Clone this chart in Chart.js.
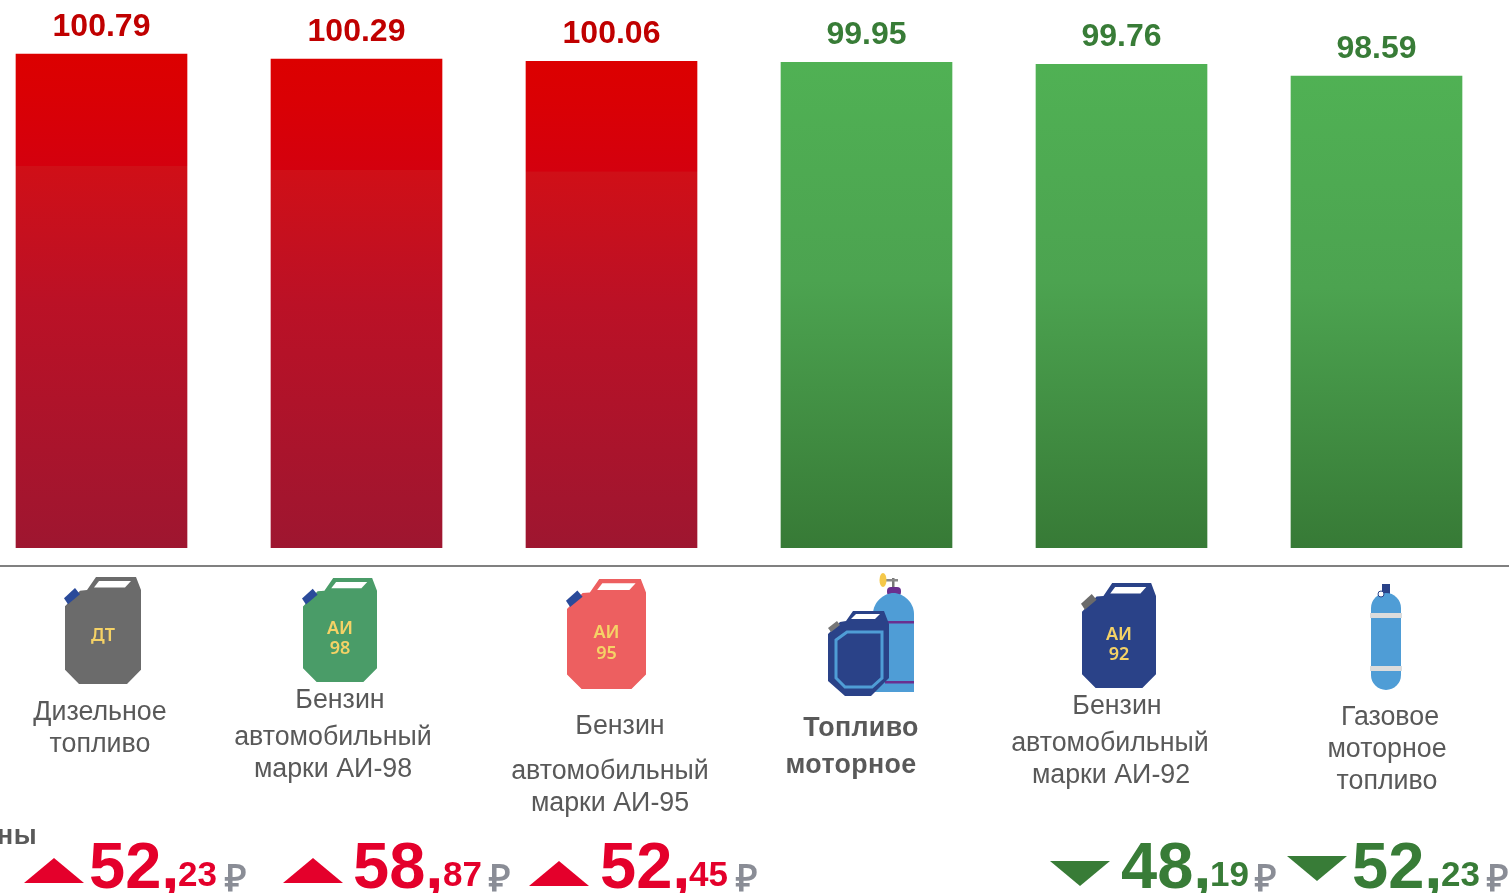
<!DOCTYPE html>
<html lang="ru">
<head>
<meta charset="utf-8">
<title>Индекс цен на топливо</title>
<script src="https://cdn.jsdelivr.net/npm/chart.js@4"></script>
<style>
html,body{margin:0;padding:0;width:1509px;height:893px;overflow:hidden;background:#fff;font-family:"Liberation Sans",Arial,sans-serif}
#wrap{position:absolute;left:-26px;top:0}
#rule{position:absolute;left:0;top:565px;width:1509px;height:2px;background:#808080}
.t{position:absolute;white-space:nowrap;line-height:1}
.cat{font-size:26.8px;color:#595959;transform:translate(-50%,-50%)}
.cat.b{font-weight:bold;letter-spacing:.35px}
.big{font-size:65px;font-weight:bold}
.kop{font-size:35px;font-weight:bold}
.rub{font-size:37px;font-weight:bold;color:#8a8d96}
svg{position:absolute;left:0;top:0}
</style>
</head>
<body>
<div id="wrap"><canvas id="c" width="1535" height="893"></canvas></div>
<div id="rule"></div>
<svg id="icons" width="1509" height="893"></svg>
<div id="texts"></div>
<script>
/* ===== datos ===== */
const categories=['Дизельное топливо','Бензин автомобильный марки АИ-98','Бензин автомобильный марки АИ-95','Топливо моторное','Бензин автомобильный марки АИ-92','Газовое моторное топливо'];
const values=[100.79,100.29,100.06,99.95,99.76,98.59];
const rising=[true,true,true,false,false,false];
const priceRub=['52','58','52',null,'48','52'];
const priceKop=['23','87','45',null,'19','23'];
const catLines=[['Дизельное','топливо'],['Бензин','автомобильный','марки АИ-98'],['Бензин','автомобильный','марки АИ-95'],['Топливо','моторное'],['Бензин','автомобильный','марки АИ-92'],['Газовое','моторное','топливо']];

/* ===== colocacion (no son datos) ===== */
const catX=[[100,100],[340,333,333],[620,610,610],[861,851],[1117,1110,1111],[1390,1387,1387]];
const catY=[[711,743],[699,736,768],[725,770,802],[727,764],[705,742,774],[716,748,780]];
const rubX=[89,353,600,null,1121,1352];
const kopX=[178,443,689,null,1210,1441];
const signX=[225,489,736,null,1255,1487];
const arrowX=[24,283,529,null,1050,1287];
const arrowY=[858,858,861,null,861,856];
const RED='#e4002b',GREEN='#387c37';

function fillGrad(c,stops){
  const chart=c.chart,a=chart.chartArea;
  if(!a) return stops[0][1];
  const g=chart.ctx.createLinearGradient(0,chart.scales.y.getPixelForValue(values[c.dataIndex]),0,a.bottom);
  stops.forEach(s=>g.addColorStop(s[0],s[1]));
  return g;
}
const redStops=[[0,'#dc0000'],[.08,'#da0004'],[.226,'#d4000e'],[.227,'#d00f17'],[.5,'#bb1126'],[1,'#9e1630']];
const greenStops=[[0,'#50b154'],[.45,'#4ca350'],[1,'#377a36']];

const valueLabels={id:'valueLabels',afterDatasetsDraw(chart){
  const ctx=chart.ctx;
  ctx.save();
  ctx.font='bold 32px "Liberation Sans",Arial,sans-serif';
  ctx.textAlign='center';ctx.textBaseline='middle';
  chart.getDatasetMeta(0).data.forEach((bar,i)=>{
    ctx.fillStyle=rising[i]?'#c00000':GREEN;
    ctx.fillText(values[i].toFixed(2),bar.x,bar.y-27);
  });
  ctx.restore();
}};

new Chart(document.getElementById('c'),{
  type:'bar',
  data:{labels:categories,datasets:[{data:values,barThickness:171,borderWidth:0,
    backgroundColor:c=>fillGrad(c,rising[c.dataIndex]?redStops:greenStops)}]},
  options:{responsive:false,animation:false,
    layout:{padding:{left:0,right:5,top:0,bottom:345}},
    plugins:{legend:{display:false},tooltip:{enabled:false}},
    scales:{x:{display:false},y:{display:false,min:51.39,max:106.19}}},
  plugins:[valueLabels]
});

/* ===== textos ===== */
const box=document.getElementById('texts');
function addText(cls,txt,x,y,color){
  const e=document.createElement('div');
  e.className='t '+cls;e.textContent=txt;e.style.left=x+'px';e.style.top=y+'px';
  if(color) e.style.color=color;
  box.appendChild(e);
}
catLines.forEach((ls,i)=>ls.forEach((l,j)=>addText(i===3?'cat b':'cat',l,catX[i][j],catY[i][j])));
addText('cat b','ны',17,835);
priceRub.forEach((r,i)=>{
  if(r===null) return;
  const col=rising[i]?RED:GREEN;
  addText('big',r+',',rubX[i],833,col);
  addText('kop',priceKop[i],kopX[i],856,col);
  addText('rub','₽',signX[i],860);
});

/* ===== iconos ===== */
const svg=document.getElementById('icons');
let html='';
function poly(pts,fill,extra){return '<polygon points="'+pts+'" fill="'+fill+'" '+(extra||'')+'/>';}
function can(x,y,w,h,col,capCol,l1,l2){
  const sx=w/76,sy=h/106;
  let s='<g transform="translate('+x+' '+y+') scale('+sx+' '+sy+')">';
  s+=poly('0,29 15,13.6 22,13 31,0 71,0 76,13 76,92 62,106 14,106 0,92',col);
  s+=poly('-1,21 10,11 15,17 3,27',capCol);
  s+=poly('34,4 66,4 60,10.5 29,10.5','#fff');
  s+='</g>';
  const tx=x+w/2;
  const f='font-family="Noto Sans,Liberation Sans,sans-serif" font-weight="600" font-size="18" fill="#f5d266" text-anchor="middle"';
  if(l2){
    s+='<text x="'+tx+'" y="'+(y+h*0.54)+'" '+f+'>'+l1+'</text><text x="'+tx+'" y="'+(y+h*0.73)+'" '+f+'>'+l2+'</text>';
  }else{
    s+='<text x="'+tx+'" y="'+(y+h*0.6)+'" '+f+'>'+l1+'</text>';
  }
  return s;
}
html+=can(65,577,76,107,'#6b6b6b','#2a4a9a','ДТ');
html+=can(303,578,74,104,'#4a9c68','#2a4a9a','АИ','98');
html+=can(567,579,79,110,'#ed5f60','#2a4a9a','АИ','95');
html+=can(1082,583,74,105,'#2a4288','#6b6b6b','АИ','92');
// topliwo motornoe: cilindro + bidon
html+='<rect x="892" y="578" width="2.5" height="10" fill="#777"/><rect x="880" y="579" width="18" height="2.5" fill="#888"/><ellipse cx="883" cy="580" rx="3.5" ry="7" fill="#f5c84a"/>';
html+='<rect x="887" y="587" width="14" height="9" rx="4" fill="#6a2f8f"/>';
html+='<path d="M873 692V614C873 602 884 593 893.5 593C903 593 914 602 914 614V692Z" fill="#4f9dd6"/>';
html+='<rect x="885" y="621" width="29" height="2.5" fill="#6a2f8f"/><rect x="885" y="681" width="29" height="2.5" fill="#6a2f8f"/>';
html+=poly('828,634 840,622 846,621 853,611 884,611 889,624 889,678 871,696 845,696 828,681','#2a4288');
html+=poly('828,628 837,621 840,625 831,632','#777');
html+=poly('856,614 880,614 875,619 851,619','#fff');
html+=poly('836,640 847,632 882,632 882,678 872,687 845,687 836,678','none','stroke="#4f9dd6" stroke-width="3"');
// balon de gas
html+='<rect x="1382" y="584" width="8" height="10" fill="#2a4288"/>';
html+='<rect x="1371" y="593" width="30" height="97" rx="15" fill="#4f9dd6"/>';
html+='<rect x="1370" y="613" width="32" height="5" fill="#dcdcdc"/><rect x="1370" y="666" width="32" height="5" fill="#dcdcdc"/>';
html+='<circle cx="1381" cy="594" r="3" fill="#fff" stroke="#2a4288" stroke-width="1"/>';
// flechas
priceRub.forEach((r,i)=>{
  if(r===null) return;
  const x=arrowX[i],y=arrowY[i];
  html+=rising[i]?poly((x+30)+','+y+' '+(x+60)+','+(y+25)+' '+x+','+(y+25),RED)
                 :poly(x+','+y+' '+(x+60)+','+y+' '+(x+30)+','+(y+25),GREEN);
});
svg.innerHTML=html;
</script>
</body>
</html>
